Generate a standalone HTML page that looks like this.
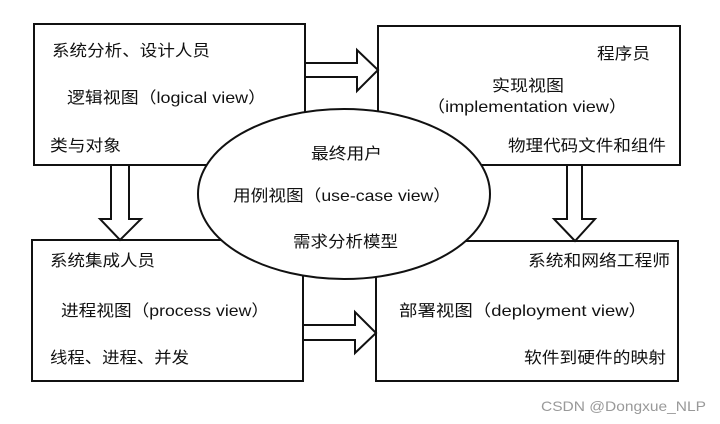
<!DOCTYPE html>
<html><head><meta charset="utf-8"><style>html,body{margin:0;padding:0;background:#fff}svg{display:block}</style></head>
<body>
<svg width="720" height="424" viewBox="0 0 720 424" xmlns="http://www.w3.org/2000/svg" font-family="'Liberation Sans','Noto Sans CJK SC',sans-serif" font-size="16" fill="#111">
<g fill="#fff" stroke="#111" stroke-width="2">
<rect x="34" y="24" width="271" height="141"/>
<rect x="378" y="26" width="302" height="139"/>
<rect x="32" y="240" width="271" height="141"/>
<rect x="376" y="241" width="302" height="140"/>
<!-- right arrows -->
<polygon points="305,63 357,63 357,50 378,70 357,91 357,77 305,77"/>
<polygon points="303,325 355,325 355,312 376,333 355,353 355,340 303,340"/>
<!-- down arrows -->
<polygon points="111,165 129,165 129,219 141,219 120,240 100,219 111,219"/>
<polygon points="567,165 582,165 582,219 595,219 575,241 554,219 567,219"/>
<ellipse cx="344" cy="194" rx="146" ry="85"/>
</g>
<g stroke="none" fill="#111">
<text x="52" y="56" textLength="158" lengthAdjust="spacingAndGlyphs">系统分析、设计人员</text>
<text x="67" y="103" textLength="199" lengthAdjust="spacingAndGlyphs">逻辑视图（logical view）</text>
<text x="50" y="151" textLength="71" lengthAdjust="spacingAndGlyphs">类与对象</text>
<text x="597" y="59" textLength="53" lengthAdjust="spacingAndGlyphs">程序员</text>
<text x="492" y="91" textLength="72" lengthAdjust="spacingAndGlyphs">实现视图</text>
<text x="427" y="112" textLength="200" lengthAdjust="spacingAndGlyphs">（implementation view）</text>
<text x="508" y="151" textLength="158" lengthAdjust="spacingAndGlyphs">物理代码文件和组件</text>
<text x="311" y="159" textLength="71" lengthAdjust="spacingAndGlyphs">最终用户</text>
<text x="233" y="201" textLength="218" lengthAdjust="spacingAndGlyphs">用例视图（use-case view）</text>
<text x="293" y="247" textLength="105" lengthAdjust="spacingAndGlyphs">需求分析模型</text>
<text x="50" y="266" textLength="105" lengthAdjust="spacingAndGlyphs">系统集成人员</text>
<text x="61" y="316" textLength="208" lengthAdjust="spacingAndGlyphs">进程视图（process view）</text>
<text x="50" y="363" textLength="139" lengthAdjust="spacingAndGlyphs">线程、进程、并发</text>
<text x="528" y="266" textLength="142" lengthAdjust="spacingAndGlyphs">系统和网络工程师</text>
<text x="399" y="316" textLength="248" lengthAdjust="spacingAndGlyphs">部署视图（deployment view）</text>
<text x="524" y="363" textLength="142" lengthAdjust="spacingAndGlyphs">软件到硬件的映射</text>
<text x="541" y="411" font-size="14" fill="#999" textLength="165" lengthAdjust="spacingAndGlyphs">CSDN @Dongxue_NLP</text>
</g>
</svg>
</body></html>
